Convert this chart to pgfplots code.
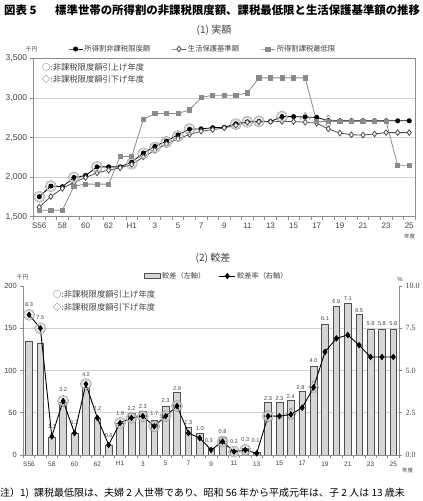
\documentclass[border=0pt]{standalone}
\usepackage{pgfplots}
\usepackage{pgfplotstable}
\pgfplotsset{compat=1.18}
\usepackage{fontspec}
\setmainfont{Liberation Sans}
\newfontfamily\jp{Noto Sans CJK JP}
\newfontfamily\sernum{Liberation Serif}
\newcommand{\fs}[1]{\fontsize{#1bp}{#1bp}\selectfont}
\definecolor{gridc}{HTML}{D0D0D0}
\definecolor{axc}{HTML}{8C8C8C}
\definecolor{sq}{HTML}{8A8A8A}
\definecolor{dia}{HTML}{4D4D4D}
\definecolor{barf}{HTML}{D6D6D6}
\definecolor{bard}{HTML}{505050}
\definecolor{txt}{HTML}{404040}
\definecolor{ring}{HTML}{8F8F8F}
\definecolor{ringl}{HTML}{C4C4C4}
\pgfplotsset{
  linelegend/.style={legend image code/.code={\draw[mark repeat=2,mark phase=2,##1] plot coordinates {(0bp,0bp) (8bp,0bp) (16bp,0bp)};}},
  linelegendshort/.style={legend image code/.code={\draw[mark repeat=2,mark phase=2,##1] plot coordinates {(0bp,0bp) (7bp,0bp) (14bp,0bp)};}},
  barlegend/.style={legend image code/.code={\draw[##1, fill=barf, draw=bard] (0bp,-2.6bp) rectangle (16bp,2.6bp);}},
}

\pgfplotstableread{
i black diamond gray
0 1753 1620 1582
1 1887 1755 1582
2 1879 1858 1582
3 1996 1934 1886
4 2020 1995 1912
5 2130 2054 1912
6 2130 2088 1912
7 2130 2118 2262
8 2192 2160 2262
9 2305 2255 2730
10 2389 2339 2805
11 2456 2420 2805
12 2535 2485 2805
13 2607 2540 2850
14 2610 2580 3006
15 2625 2600 3035
16 2630 2622 3035
17 2675 2655 3035
18 2700 2694 3065
19 2706 2700 3255
20 2703 2700 3255
21 2765 2703 3255
22 2765 2703 3255
23 2760 2695 3255
24 2755 2680 2700
25 2715 2610 2705
26 2712 2557 2705
27 2712 2536 2705
28 2712 2532 2705
29 2712 2546 2705
30 2712 2563 2705
31 2712 2563 2150
32 2712 2563 2150
}\topdata

\pgfplotstableread{
i bar rate
0 134 8.3
1 132 7.5
2 21 1.1
3 62 3.2
4 26 1.3
5 80 4.2
6 44 2.2
7 12 0.6
8 38 1.9
9 49 2.2
10 52 2.3
11 41 1.7
12 58 2.3
13 74 2.9
14 33 1.3
15 26 1.0
16 8 0.3
17 21 0.8
18 6 0.2
19 8 0.3
20 3 0.1
21 62 2.3
22 62 2.3
23 65 2.4
24 75 2.8
25 105 4.0
26 155 6.1
27 176 6.9
28 180 7.1
29 166 6.5
30 149 5.8
31 149 5.8
32 149 5.8
}\botdata

\begin{document}
\begin{tikzpicture}
\path[use as bounding box] (0,0) rectangle (423bp,501bp);

% titles
\node[anchor=west, font=\jp\bfseries\fs{11.4}, inner sep=0] at (4bp,491bp) {図表 5};
\node[anchor=west, font=\jp\bfseries\fs{11.4}, inner sep=0] at (55bp,491bp) {標準世帯の所得割の非課税限度額、課税最低限と生活保護基準額の推移};
\node[font=\jp\fs{10}, text=txt, inner sep=0] at (214bp,471bp) {(1) 実額};
\node[font=\jp\fs{10}, text=txt, inner sep=0] at (213bp,243bp) {(2) 較差};

% ---------- top chart ----------
\begin{axis}[
  at={(33.5bp,284.3bp)}, anchor=south west, scale only axis,
  width=381.5bp, height=158.2bp,
  xmin=-0.5, xmax=32.5, ymin=1500, ymax=3500,
  axis line style={draw=axc, line width=0.6bp},
  tick pos=left, tick align=outside,
  major tick length=3bp, minor tick length=3bp,
  tick style={draw=axc, line width=0.6bp},
  xtick={0,2,...,32},
  xticklabels={S56,58,60,62,H1,3,5,7,9,11,13,15,17,19,21,23,25},
  major x tick style={draw=none},
  minor xtick={-0.5,0.5,...,32.5},
  ytick={1500,2000,...,3500},
  ymajorgrids, grid style={draw=gridc, line width=0.6bp},
  /pgf/number format/1000 sep={,},
  /pgf/number format/assume math mode=true,
  yticklabel style={font=\fs{8.5}, text=txt},
  xticklabel style={font=\fs{8}, text=txt},
  legend style={at={(axis description cs:0.0904,1.06)}, anchor=west, draw=none, fill=none,
    inner sep=0pt, font=\jp\fs{7.3}, text=txt, legend columns=3,
    /tikz/every even column/.append style={column sep=20bp}, nodes={inner sep=1.5bp}},
  legend cell align=left,
  linelegendshort,
]
\addplot[black, line width=0.8bp, mark=*, mark size=2.1bp] table[x=i,y=black]{\topdata};
\addlegendentry{所得割非課税限度額}
\addplot[dia, line width=0.8bp, mark=diamond*, mark size=2.8bp, mark options={fill=white, draw=dia}] table[x=i,y=diamond]{\topdata};
\addlegendentry{生活保護基準額}
\addplot[sq, line width=0.8bp, mark=square*, mark size=2.1bp] table[x=i,y=gray]{\topdata};
\addlegendentry{所得割課税最低限}
% highlight rings (raised years)
\addplot[forget plot, only marks, mark=o, mark size=5.6bp, mark options={draw=ring, line width=0.45bp}] coordinates {
 (0,1753) (1,1887) (3,1996) (5,2130) (8,2170) (9,2300) (10,2375) (11,2445) (12,2520) (13,2607) (17,2670) (18,2700) (19,2706) (21,2765)};
\addplot[forget plot, only marks, mark=o, mark size=4.6bp, mark options={draw=ringl, line width=0.9bp}] coordinates {
 (0,1753) (1,1887) (3,1996) (5,2130) (8,2170) (9,2300) (10,2375) (11,2445) (12,2520) (13,2607) (17,2670) (18,2700) (19,2706) (21,2765)};
% highlight diamonds (lowered years)
\addplot[forget plot, only marks, mark=diamond, mark size=6.5bp, mark options={draw=ring, line width=0.8bp, dashed}] coordinates {
 (23,2735) (25,2706)};
\end{axis}

% ---------- bottom chart: bars (left axis) ----------
\begin{axis}[
  at={(23.3bp,46bp)}, anchor=south west, scale only axis,
  width=375.7bp, height=169bp,
  xmin=-0.5, xmax=32.5, ymin=0, ymax=200,
  axis x line*=bottom, axis y line*=left,
  axis line style={draw=axc, line width=0.6bp},
  tick align=outside,
  major tick length=3bp, minor tick length=3bp,
  tick style={draw=axc, line width=0.6bp},
  xtick={0,2,...,32},
  xticklabels={S56,58,60,62,H1,3,5,7,9,11,13,15,17,19,21,23,25},
  major x tick style={draw=none},
  minor xtick={-0.5,0.5,...,32.5},
  ytick={0,50,100,150}, extra y ticks={200}, extra y tick style={grid=none},
  ymajorgrids, grid style={draw=gridc, line width=0.6bp},
  /pgf/number format/assume math mode=true,
  yticklabel style={font=\fs{7.5}, text=txt},
  xticklabel style={font=\fs{6.5}, text=txt},
  legend style={at={(axis description cs:0.321,1.059)}, anchor=west, draw=none, fill=none,
    inner sep=0pt, font=\jp\fs{7.2}, text=txt, legend columns=2,
    /tikz/every even column/.append style={column sep=12bp}, nodes={inner sep=1.5bp}},
  legend cell align=left,
]
\addplot[ybar, bar width=6.7bp, bar shift=0pt, fill=barf, draw=bard, line width=0.6bp, barlegend] table[x=i,y=bar]{\botdata};
\addlegendentry{較差（左軸）}
\addlegendimage{black, line width=0.8bp, mark=diamond*, mark size=2.6bp, linelegend}
\addlegendentry{較差率（右軸）}
\end{axis}

% ---------- bottom chart: rate (right axis) ----------
\begin{axis}[
  at={(23.3bp,46bp)}, anchor=south west, scale only axis,
  width=375.7bp, height=169bp,
  xmin=-0.5, xmax=32.5, ymin=0, ymax=10,
  axis y line*=right, axis x line=none,
  axis line style={draw=axc, line width=0.6bp},
  tick align=outside, major tick length=3bp,
  tick style={draw=axc, line width=0.6bp},
  ytick={0,2.5,5,7.5,10},
  /pgf/number format/fixed, /pgf/number format/fixed zerofill, /pgf/number format/precision=1,
  /pgf/number format/assume math mode=true,
  yticklabel style={font=\sernum\fs{8}, text=txt},
]
\addplot[black, line width=0.9bp, mark=diamond*, mark size=2.6bp] table[x=i,y=rate]{\botdata};
\addplot[only marks, mark=o, mark size=5.6bp, mark options={draw=ring, line width=0.45bp}] coordinates {
 (0,8.3) (1,7.5) (3,3.2) (5,4.2) (8,1.9) (9,2.2) (10,2.3) (11,1.7) (12,2.3) (13,2.9) (17,0.8) (18,0.2) (19,0.3) (21,2.3)};
\addplot[only marks, mark=o, mark size=4.6bp, mark options={draw=ringl, line width=0.9bp}] coordinates {
 (0,8.3) (1,7.5) (3,3.2) (5,4.2) (8,1.9) (9,2.2) (10,2.3) (11,1.7) (12,2.3) (13,2.9) (17,0.8) (18,0.2) (19,0.3) (21,2.3)};
\addplot[only marks, mark=diamond, mark size=6.5bp, mark options={draw=ring, line width=0.8bp, dashed}] coordinates {
 (23,2.4) (25,4.0)};
\addplot[draw=none, mark=none, nodes near coords, point meta=explicit symbolic,
  every node near coord/.append style={anchor=center, font=\fs{5.6}, text=txt, inner sep=0pt}] coordinates {
 (0,8.93)[8.3] (1,8.15)[7.5] (2,1.68)[1.1] (3,3.85)[3.2] (4,1.9)[1.3] (5,4.78)[4.2] (6,2.75)[2.2] (7,1.15)[0.6]
 (8,2.45)[1.9] (9,2.75)[2.2] (10,2.88)[2.3] (11,2.43)[1.7] (12,3.2)[2.3] (13,3.93)[2.9] (14,1.9)[1.3] (15,1.58)[1.0]
 (15.8,0.85)[0.3] (17,1.4)[0.8] (18,0.79)[0.2] (19,0.93)[0.3] (19.9,0.85)[0.1] (21,3.35)[2.3] (22,3.35)[2.3] (23,3.45)[2.4]
 (23.85,4.0)[2.8] (25,5.58)[4.0] (26,8.05)[6.1] (27,9.05)[6.9] (28,9.25)[7.1] (29,8.55)[6.5] (30,7.8)[5.8] (31,7.8)[5.8] (32,7.8)[5.8]};
\end{axis}

% inner legends and units
\node[anchor=west, font=\jp\fs{8.3}, text=txt, inner sep=0] at (42bp,434bp) {○:非課税限度額引上げ年度};
\node[anchor=west, font=\jp\fs{8.3}, text=txt, inner sep=0] at (42bp,422bp) {◇:非課税限度額引下げ年度};
\node[anchor=west, font=\jp\fs{8.3}, text=txt, inner sep=0] at (53bp,207bp) {○:非課税限度額引上げ年度};
\node[anchor=west, font=\jp\fs{8.3}, text=txt, inner sep=0] at (53bp,194bp) {◇:非課税限度額引下げ年度};
\node[font=\jp\fs{5.8}, text=txt, inner sep=0] at (31.5bp,452bp) {千円};
\node[font=\jp\fs{5.8}, text=txt, inner sep=0] at (22.5bp,223.3bp) {千円};
\node[font=\fs{6}, text=txt, inner sep=0] at (400bp,221.7bp) {\%};
\node[font=\jp\fs{5.5}, text=txt, inner sep=0] at (409.5bp,264.3bp) {年度};
\node[font=\jp\fs{5.5}, text=txt, inner sep=0] at (407.5bp,31bp) {年度};

% footer
\node[anchor=west, font=\jp\fs{10}, inner sep=0] at (0bp,8bp) {注）1)\hspace{5bp}課税最低限は、夫婦 2 人世帯であり、昭和 56 年から平成元年は、子 2 人は 13 歳未};
\end{tikzpicture}
\end{document}
